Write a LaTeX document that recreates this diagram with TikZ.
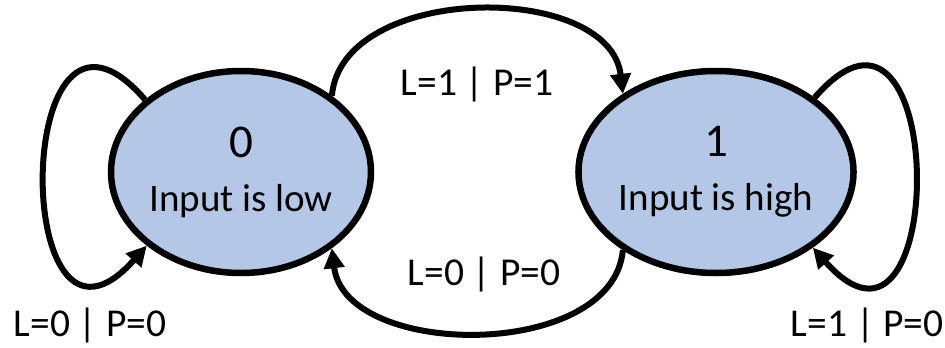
\documentclass[tikz,border=0pt]{standalone}
\usepackage{fontspec}
\setmainfont{Carlito}
\usetikzlibrary{shapes.geometric,arrows.meta}
\definecolor{statefill}{HTML}{B4C7E7}
\tikzset{
	state/.style={ellipse, draw, line width=6.5pt, fill=statefill,
		minimum width=260pt, minimum height=202pt, align=center, inner sep=0pt,
		font=\fontsize{39}{54}\selectfont},
	trans/.style={line width=6pt, -{Triangle[length=20pt,width=20pt]}},
	cond/.style={anchor=base, font=\fontsize{39.5}{44}\selectfont}
}
\newcommand{\statenum}[1]{{\fontsize{47}{50}\selectfont #1}}
\begin{document}
\begin{tikzpicture}[x=1pt, y=-1pt]
	\useasboundingbox (0,0) rectangle (945,348);
	
	\node[state] (lo) at (241,172) {\statenum{0}\\Input is low};
	\node[state] (hi) at (716,172) {\statenum{1}\\Input is high};
	
	\draw[trans] (lo.40) .. controls +(10,-113) and +(-13,-113) .. (hi.140);
	\draw[trans] (hi.220) .. controls +(-10,111) and +(13,111) .. (lo.320);
	
	\draw[trans] (lo.143) .. controls +(-134,-155) and +(-137,154) .. (lo.218);
	\draw[trans] (hi.37) .. controls +(134,-155) and +(137,154) .. (hi.322);
	
	\node[cond] (c01) at (477,95) {L=1 | P=1};
	\node[cond] (c10) at (484,285) {L=0 | P=0};
	\node[cond] (c00) at (90,336) {L=0 | P=0};
	\node[cond] (c11) at (867,336) {L=1 | P=0};
\end{tikzpicture}
\end{document}
